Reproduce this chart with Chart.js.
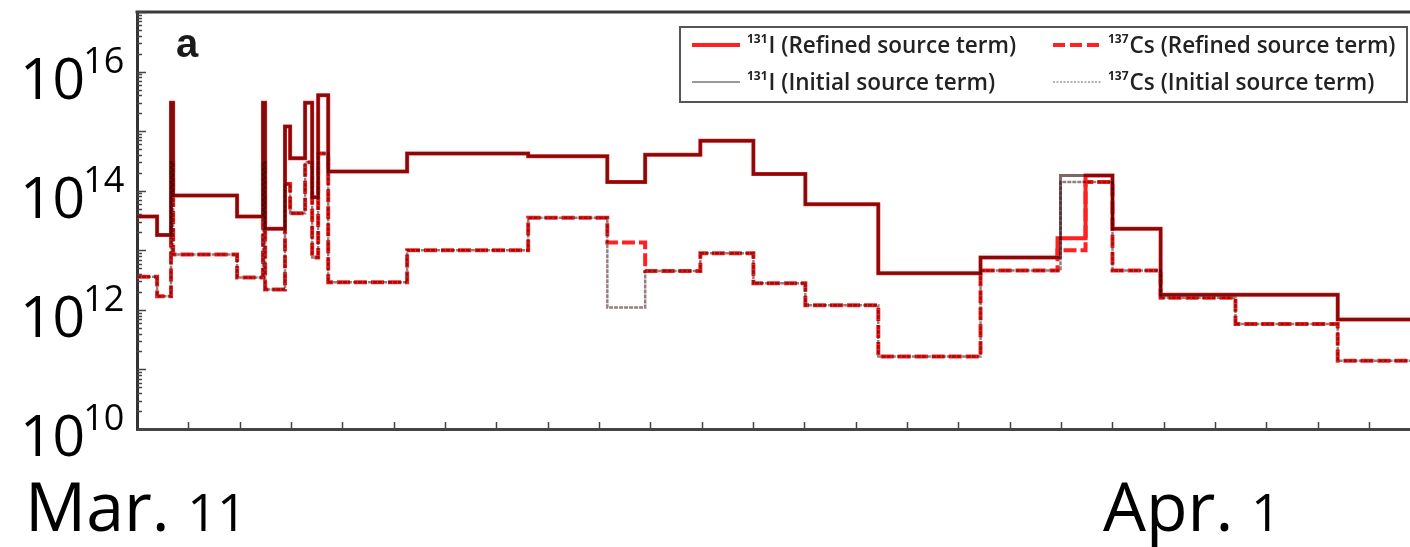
<!DOCTYPE html>
<html>
<head>
<meta charset="utf-8">
<script src="https://cdn.jsdelivr.net/npm/chart.js@4.4.1/dist/chart.umd.min.js"></script>
<style>
  html, body { margin: 0; padding: 0; background: #fff; overflow: hidden; }
  #wrap { position: relative; width: 1410px; height: 547px; }
</style>
</head>
<body>
<div id="wrap"><canvas id="c" width="1410" height="547"></canvas></div>
<script>
// Step-wise release rates; each rate holds from its start hour (after Mar. 11 00:00) to the next one.
const i131RefinedHours = [0, 9.4, 15.9, 16.9, 46.8, 58.9, 59.9, 69.2, 71.6, 78.6, 81.9, 84.7, 89.4, 126.3, 182.9, 219.9, 237.6, 263.4, 288.2, 312.5, 346.6, 394.4, 430.4, 443.5, 456.1, 478.6, 561.4];
const i131RefinedRate  = [3.7e13, 1.8e13, 3.0e15, 8.3e13, 3.7e13, 3.0e15, 2.3e13, 1.2e15, 3.5e14, 3.0e15, 7.8e13, 4.0e15, 2.1e14, 4.2e14, 3.8e14, 1.4e14, 4.0e14, 6.9e14, 1.9e14, 5.9e13, 4.1e12, 7.6e12, 1.6e13, 1.8e14, 2.3e13, 1.8e12, 6.9e11];

const cs137RefinedHours = [0, 9.4, 15.9, 16.9, 46.8, 58.9, 59.9, 69.2, 71.6, 78.6, 81.9, 84.7, 89.4, 126.3, 182.9, 219.9, 237.6, 263.4, 288.2, 312.5, 346.6, 394.4, 430.4, 443.5, 456.1, 478.6, 513.6, 561.4];
const cs137RefinedRate  = [3.6e12, 1.7e12, 3.0e14, 8.5e12, 3.5e12, 3.0e14, 2.2e12, 1.3e14, 4.2e13, 3.0e14, 7.6e12, 4.2e14, 2.9e12, 1.0e13, 3.5e13, 1.35e13, 4.5e12, 8.9e12, 2.8e12, 1.2e12, 1.65e11, 4.6e12, 1.0e13, 1.4e14, 4.6e12, 1.6e12, 5.8e11, 1.4e11];

const i131InitialHours = [0, 9.4, 15.9, 16.9, 46.8, 58.9, 59.9, 69.2, 71.6, 78.6, 81.9, 84.7, 89.4, 126.3, 182.9, 219.9, 237.6, 263.4, 288.2, 312.5, 346.6, 394.4, 431.8, 456.1, 478.6, 561.4];
const i131InitialRate  = [3.7e13, 1.8e13, 3.0e15, 8.3e13, 3.7e13, 3.0e15, 2.3e13, 1.2e15, 3.5e14, 3.0e15, 7.8e13, 4.0e15, 2.1e14, 4.2e14, 3.8e14, 1.4e14, 4.0e14, 6.9e14, 1.9e14, 5.9e13, 4.1e12, 7.6e12, 1.8e14, 2.3e13, 1.8e12, 6.9e11];

const cs137InitialHours = [0, 9.4, 15.9, 16.9, 46.8, 58.9, 59.9, 69.2, 71.6, 78.6, 81.9, 84.7, 89.4, 126.3, 182.9, 219.9, 237.6, 263.4, 288.2, 312.5, 346.6, 394.4, 431.8, 456.1, 478.6, 513.6, 561.4];
const cs137InitialRate  = [3.6e12, 1.7e12, 3.0e14, 8.5e12, 3.5e12, 3.0e14, 2.2e12, 1.3e14, 4.2e13, 3.0e14, 7.6e12, 4.2e14, 2.9e12, 1.0e13, 3.5e13, 1.1e12, 4.5e12, 8.9e12, 2.8e12, 1.2e12, 1.65e11, 4.6e12, 1.4e14, 4.6e12, 1.6e12, 5.8e11, 1.4e11];

// Legend text pieces
const seriesMass    = ['131', '137', '131', '137'];
const seriesElement = ['I', 'Cs', 'I', 'Cs'];
const seriesTerm    = ['Refined source term', 'Refined source term', 'Initial source term', 'Initial source term'];

// Axis labels
const yLabelExponents = [10, 12, 14, 16];
const dateLabels = [{ day: 0, month: 'Mar.', date: '11' }, { day: 21, month: 'Apr.', date: '1' }];
const panelLetter = 'a';

const DAY_MAX = 24.8;
const SUP = { '0': '\u2070', '1': '\u00b9', '2': '\u00b2', '3': '\u00b3', '4': '\u2074', '5': '\u2075', '6': '\u2076', '7': '\u2077', '8': '\u2078', '9': '\u2079' };
const supText = s => s.split('').map(ch => SUP[ch]).join('');

function stepPoints(hours, rates) {
  const pts = hours.map((h, i) => ({ x: h / 24, y: rates[i] }));
  pts.push({ x: DAY_MAX + 1, y: rates[rates.length - 1] });
  return pts;
}

const RED = '#ff2020';
const DARK_OVER = 'rgba(45,0,0,0.6)';

const datasets = [
  { key: 0, hours: i131RefinedHours, rates: i131RefinedRate, color: RED, width: 4, dash: [], order: 2 },
  { key: 1, hours: cs137RefinedHours, rates: cs137RefinedRate, color: RED, width: 4, dash: [13, 4], order: 3 },
  { key: 2, hours: i131InitialHours, rates: i131InitialRate, color: DARK_OVER, width: 3, dash: [], order: 0 },
  { key: 3, hours: cs137InitialHours, rates: cs137InitialRate, color: 'rgba(45,0,0,0.5)', width: 2.5, dash: [4, 1], order: 1 }
].map(d => ({
  label: supText(seriesMass[d.key]) + seriesElement[d.key] + ' (' + seriesTerm[d.key] + ')',
  data: stepPoints(d.hours, d.rates),
  borderColor: d.color,
  borderWidth: d.width,
  borderDash: d.dash,
  stepped: true,
  pointRadius: 0,
  fill: false,
  order: d.order,
  borderCapStyle: 'butt',
  borderJoinStyle: 'miter'
}));

// Inward ticks, top frame, big axis labels, panel letter and the boxed legend
const decorations = {
  id: 'decorations',
  afterDraw(chart) {
    const ctx = chart.ctx;
    const xs = chart.scales.x, ys = chart.scales.y;
    const a = chart.chartArea;
    ctx.save();

    // top frame line
    ctx.strokeStyle = '#3a3a3a';
    ctx.lineWidth = 3;
    ctx.beginPath();
    ctx.moveTo(a.left - 1.5, a.top);
    ctx.lineTo(a.right, a.top);
    ctx.stroke();

    // day ticks along the bottom
    ctx.strokeStyle = '#444';
    ctx.lineWidth = 1.5;
    ctx.beginPath();
    for (let d = 1; d <= Math.floor(DAY_MAX); d++) {
      const px = Math.round(xs.getPixelForValue(d)) + 0.5;
      ctx.moveTo(px, a.bottom);
      ctx.lineTo(px, a.bottom - 7);
    }
    ctx.stroke();

    // decade and minor ticks along the left
    ctx.beginPath();
    for (let e = 10; e <= 17; e++) {
      for (let k = 1; k <= 9; k++) {
        const v = k * Math.pow(10, e);
        if (v > 1e17 || v < 1e10) continue;
        const py = Math.round(ys.getPixelForValue(v)) + 0.5;
        ctx.moveTo(a.left, py);
        ctx.lineTo(a.left + (k === 1 ? 9 : 5), py);
      }
    }
    ctx.stroke();

    // y tick labels 10^n
    ctx.fillStyle = '#000';
    ctx.textBaseline = 'alphabetic';
    ctx.textAlign = 'left';
    for (const e of yLabelExponents) {
      const py = ys.getPixelForValue(Math.pow(10, e));
      ctx.font = '57px "Open Sans"';
      ctx.fillText('10', 20, py + 27);
      const w = ctx.measureText('10').width;
      ctx.font = '36px "Open Sans"';
      ctx.fillText(String(e), 20 + w - 2, py + 1);
    }

    // date labels under the axis
    for (const lab of dateLabels) {
      const x0 = lab.day === 0 ? 25 : 1103;
      ctx.font = '68px "Open Sans"';
      ctx.fillText(lab.month, x0, 531);
      const w = ctx.measureText(lab.month + ' ').width;
      ctx.font = '52px "Open Sans"';
      ctx.fillText(lab.date, x0 + w, 531);
    }

    // panel letter
    ctx.font = 'bold 40px "Liberation Sans"';
    ctx.fillStyle = '#1a1a1a';
    ctx.fillText(panelLetter, 176, 57);

    // legend box
    const box = { l: 680, t: 27, r: 1407, b: 102 };
    ctx.fillStyle = '#fff';
    ctx.fillRect(box.l, box.t, box.r - box.l, box.b - box.t);
    ctx.strokeStyle = '#555';
    ctx.lineWidth = 2;
    ctx.strokeRect(box.l, box.t, box.r - box.l, box.b - box.t);

    const colX = [692, 1053];
    const rowY = [45, 82];
    const sampleStyles = [
      { color: RED, width: 4, dash: [] },
      { color: RED, width: 4, dash: [12, 5] },
      { color: '#777', width: 1.5, dash: [] },
      { color: '#999', width: 1.5, dash: [2, 1.5] }
    ];
    for (let i = 0; i < 4; i++) {
      const cx = colX[i % 2], cy = rowY[Math.floor(i / 2)];
      const s = sampleStyles[i];
      ctx.strokeStyle = s.color;
      ctx.lineWidth = s.width;
      ctx.setLineDash(s.dash);
      ctx.beginPath();
      ctx.moveTo(cx, cy);
      ctx.lineTo(cx + 48, cy);
      ctx.stroke();
      ctx.setLineDash([]);

      ctx.fillStyle = '#222';
      ctx.font = 'bold 12px "Open Sans"';
      ctx.fillText(seriesMass[i], cx + 55, cy - 2);
      const mw = ctx.measureText(seriesMass[i]).width;
      ctx.font = '600 22.5px "Open Sans"';
      ctx.fillText(seriesElement[i] + ' (' + seriesTerm[i] + ')', cx + 56 + mw, cy + 8);
    }
    ctx.restore();
  }
};

new Chart(document.getElementById('c'), {
  type: 'line',
  data: { datasets },
  options: {
    responsive: false,
    animation: false,
    devicePixelRatio: 1,
    layout: { padding: { left: 137, top: 12, right: 0, bottom: 118 } },
    plugins: { legend: { display: false }, tooltip: { enabled: false } },
    scales: {
      x: {
        type: 'linear',
        min: 0,
        max: DAY_MAX,
        ticks: { display: false },
        grid: { display: false, drawTicks: false },
        border: { display: true, color: '#444', width: 3 }
      },
      y: {
        type: 'logarithmic',
        min: 1e10,
        max: 1e17,
        ticks: { display: false },
        grid: { display: false, drawTicks: false },
        border: { display: true, color: '#333', width: 3 }
      }
    }
  },
  plugins: [decorations]
});
</script>
</body>
</html>
